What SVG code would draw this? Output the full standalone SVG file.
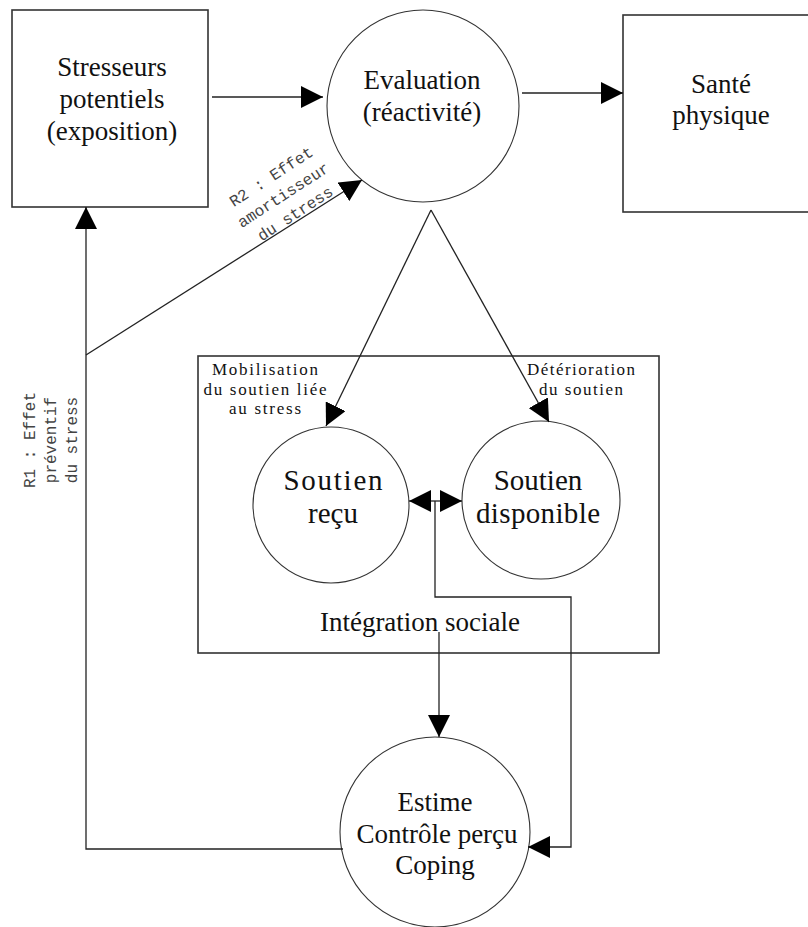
<svg xmlns="http://www.w3.org/2000/svg" width="808" height="927" viewBox="0 0 808 927">
<style>
.box{fill:none;stroke:#333;stroke-width:1.6}
.circ{fill:#fff;stroke:#333;stroke-width:1.1}
.t{font-family:"Liberation Serif","Times New Roman",serif;font-size:27px;fill:#111;text-anchor:middle}
.big{font-size:29px}
.sm{font-size:17px}
.mono{font-family:"Liberation Mono","Courier New",monospace;font-size:16px;fill:#444;text-anchor:middle}
.c{fill:none;stroke:#222;stroke-width:1.3}
</style>
<defs>
<marker id="ah" viewBox="0 0 22 22" markerWidth="22" markerHeight="22" markerUnits="userSpaceOnUse" refX="22" refY="11" orient="auto">
<path d="M0,0 L22,11 L0,22 z" fill="#000"/>
</marker>
</defs>
<rect width="808" height="927" fill="#fff"/>
<g id="stresseurs">
<rect class="box" x="12" y="10" width="196" height="197"/>
<text class="t" x="112" y="76">Stresseurs</text>
<text class="t" x="112" y="108">potentiels</text>
<text class="t" x="112" y="140">(exposition)</text>
</g>
<g id="evaluation">
<circle class="circ" cx="423" cy="106" r="96"/>
<text class="t" x="422" y="89">Evaluation</text>
<text class="t" x="422" y="121">(réactivité)</text>
</g>
<g id="sante">
<rect class="box" x="623" y="15" width="197" height="197"/>
<text class="t" x="721" y="93">Santé</text>
<text class="t" x="721" y="124">physique</text>
</g>
<g id="integration">
<rect class="box" x="198" y="356" width="461" height="297"/>
<text class="t" x="420" y="631">Intégration sociale</text>
<text class="t sm" x="265" y="375" textLength="106">Mobilisation</text>
<text class="t sm" x="265" y="395" textLength="123">du soutien liée</text>
<text class="t sm" x="265" y="414" textLength="72">au stress</text>
<text class="t sm" x="581" y="375" textLength="108">Détérioration</text>
<text class="t sm" x="581" y="395" textLength="84">du soutien</text>
</g>
<g id="soutien-recu">
<circle class="circ" cx="331" cy="505" r="78"/>
<text class="t big" x="333" y="490" textLength="99">Soutien</text>
<text class="t big" x="333" y="523">reçu</text>
</g>
<g id="soutien-disponible">
<circle class="circ" cx="541" cy="500" r="79"/>
<text class="t big" x="538" y="490">Soutien</text>
<text class="t big" x="538" y="523" textLength="124">disponible</text>
</g>
<g id="estime">
<circle class="circ" cx="435" cy="832" r="95"/>
<text class="t" x="435" y="811">Estime</text>
<text class="t" x="437" y="843">Contrôle perçu</text>
<text class="t" x="435" y="874">Coping</text>
</g>
<g id="connectors">
<line class="c" x1="212" y1="97" x2="323" y2="97" marker-end="url(#ah)"/>
<line class="c" x1="522" y1="93" x2="623" y2="93" marker-end="url(#ah)"/>
<line class="c" x1="431" y1="210" x2="326" y2="426" marker-end="url(#ah)"/>
<line class="c" x1="431" y1="210" x2="549" y2="422" marker-end="url(#ah)"/>
<line class="c" x1="86" y1="355" x2="362" y2="180" marker-end="url(#ah)"/>
<polyline class="c" points="343,849 86,849 86,207" marker-end="url(#ah)"/>
<line class="c" x1="439" y1="632" x2="439" y2="737" marker-end="url(#ah)"/>
<line class="c" x1="435" y1="501" x2="409" y2="501" marker-end="url(#ah)"/>
<line class="c" x1="435" y1="501" x2="462" y2="501" marker-end="url(#ah)"/>
<polyline class="c" points="435,501 435,597 571,597 571,847 528,847" marker-end="url(#ah)"/>
<text class="mono" transform="translate(274,181) rotate(-33)"><tspan x="0" y="0">R2 : Effet</tspan><tspan x="0" y="22">amortisseur</tspan><tspan x="0" y="44">du stress</tspan></text>
<text class="mono" transform="translate(35,440) rotate(-90)"><tspan x="0" y="0">R1 : Effet</tspan><tspan x="0" y="21">préventif</tspan><tspan x="0" y="42">du stress</tspan></text>
</g>
</svg>
